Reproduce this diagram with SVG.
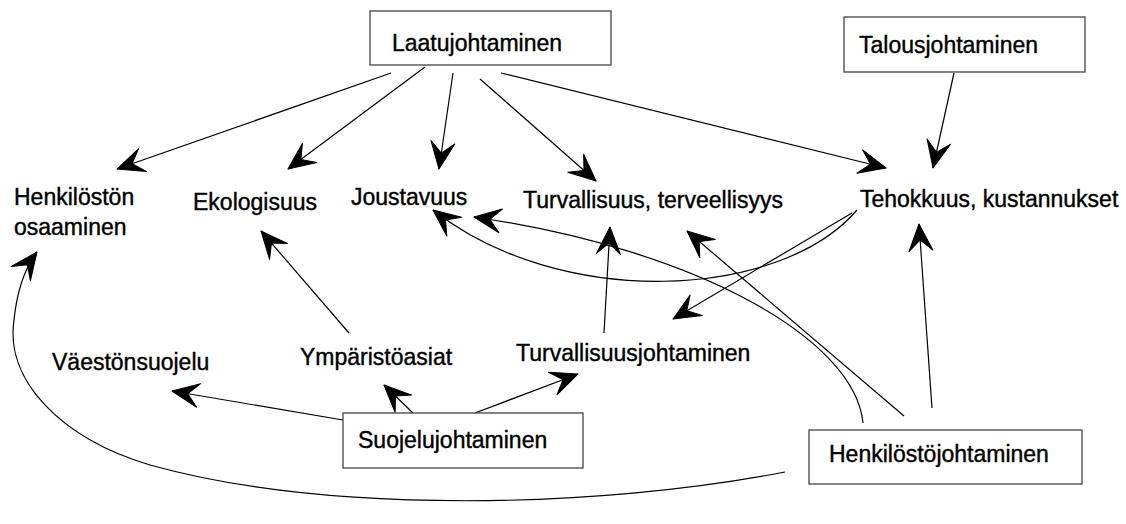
<svg xmlns="http://www.w3.org/2000/svg" width="1126" height="524" viewBox="0 0 1126 524">
  <style>
    .box { fill: #fff; stroke: #444; stroke-width: 1.3; }
    .lbl { font-family: "Liberation Sans", Arial, sans-serif; font-size: 23px; fill: #000; stroke: #000; stroke-width: 0.4; }
    .con { fill: none; stroke: #000; stroke-width: 1.2; marker-end: url(#ah); }
  </style>
  <defs>
    <!-- barbed arrowhead, tip at the path end -->
    <marker id="ah" markerUnits="userSpaceOnUse" markerWidth="34" markerHeight="32" viewBox="-30 -16 32 32" refX="0" refY="0" orient="auto">
      <path d="M0,0 L-27,-12 L-16,0 L-27,12 Z" fill="#000" stroke="#000" stroke-width="1" stroke-linejoin="round"/>
    </marker>
  </defs>
  <rect width="1126" height="524" fill="#fff"/>

  <g id="connectors">
    <path class="con" d="M391,73 L117,169"/>
    <path class="con" d="M425,67 L288,169"/>
    <path class="con" d="M453,73 L439,169"/>
    <path class="con" d="M480,79 L596,181"/>
    <path class="con" d="M501,73 L886,168"/>
    <path class="con" d="M954,73 L933,168"/>
    <path class="con" d="M349,333 L261,231"/>
    <path class="con" d="M343,420 L172,391"/>
    <path class="con" d="M413,413 L384,385"/>
    <path class="con" d="M475,413 L578,374"/>
    <path class="con" d="M604,333 L610,227"/>
    <path class="con" d="M852,213 L673,319"/>
    <path class="con" d="M857,210 C780,300 560,310 433,210"/>
    <path class="con" d="M932,408 L919,224"/>
    <path class="con" d="M904,416 L687,231"/>
    <path class="con" d="M863,423 C855,340 700,250 474,217"/>
    <path class="con" d="M785,472 C600,508 330,515 150,465 C60,438 5,380 14,320 C17,290 25,268 37,252"/>
  </g>

  <g id="laatujohtaminen">
    <rect class="box" x="370" y="11" width="241" height="54"/>
    <text class="lbl" x="392" y="51">Laatujohtaminen</text>
  </g>
  <g id="talousjohtaminen">
    <rect class="box" x="844" y="17" width="241" height="55"/>
    <text class="lbl" x="859" y="53">Talousjohtaminen</text>
  </g>
  <g id="henkiloston-osaaminen">
    <text class="lbl" x="14" y="205">Henkilöstön</text>
    <text class="lbl" x="14" y="235">osaaminen</text>
  </g>
  <g id="ekologisuus">
    <text class="lbl" x="193" y="210">Ekologisuus</text>
  </g>
  <g id="joustavuus">
    <text class="lbl" x="351" y="205">Joustavuus</text>
  </g>
  <g id="turvallisuus">
    <text class="lbl" x="523" y="208">Turvallisuus, terveellisyys</text>
  </g>
  <g id="tehokkuus">
    <text class="lbl" x="860" y="207">Tehokkuus, kustannukset</text>
  </g>
  <g id="vaestonsuojelu">
    <text class="lbl" x="52" y="370">Väestönsuojelu</text>
  </g>
  <g id="ymparistoasiat">
    <text class="lbl" x="300" y="365">Ympäristöasiat</text>
  </g>
  <g id="turvallisuusjohtaminen">
    <text class="lbl" x="516" y="361">Turvallisuusjohtaminen</text>
  </g>
  <g id="suojelujohtaminen">
    <rect class="box" x="343" y="413" width="240" height="55"/>
    <text class="lbl" x="358" y="448">Suojelujohtaminen</text>
  </g>
  <g id="henkilostojohtaminen">
    <rect class="box" x="809" y="430" width="273" height="54"/>
    <text class="lbl" x="829" y="462">Henkilöstöjohtaminen</text>
  </g>
</svg>
